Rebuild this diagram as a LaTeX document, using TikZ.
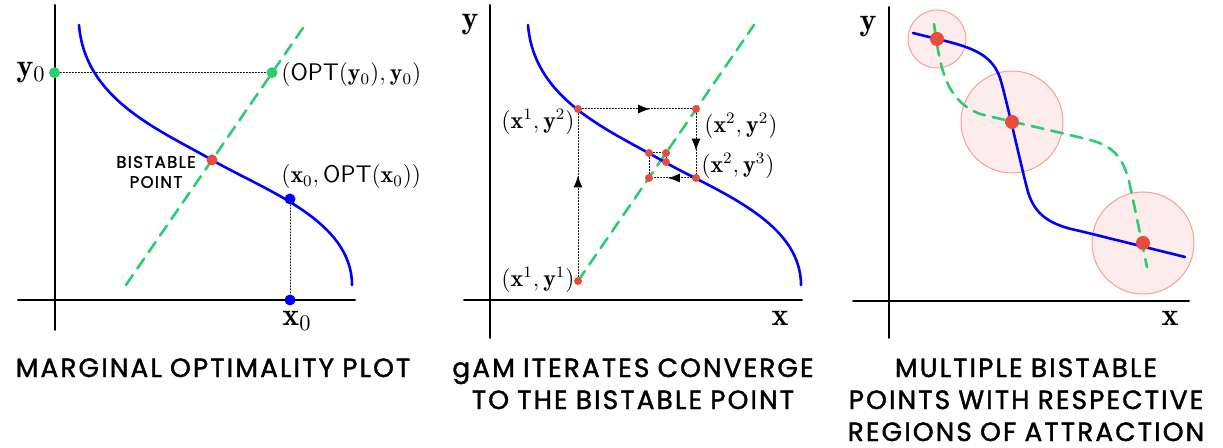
\RequirePackage{fix-cm}
\documentclass[tikz,border=0pt]{standalone}
\usepackage{fontspec}
\newfontfamily\capfont{Poppins}[LetterSpace=8, WordSpace=0.9, FakeBold=1.5]
\usetikzlibrary{arrows.meta, decorations.markings}

\definecolor{optblue}{RGB}{0,0,255}
\definecolor{diaggreen}{RGB}{46,204,113}
\definecolor{bistred}{RGB}{231,76,60}
\definecolor{basinfill}{RGB}{252,236,236}
\definecolor{basinedge}{RGB}{243,160,150}

\tikzset{
  axis/.style={line width=1pt},
  optcurve/.style={optblue, line width=1.3pt},
  diagline/.style={diaggreen, line width=1.3pt, dash pattern=on 6pt off 4pt},
  guide/.style={densely dotted, line width=0.5pt},
  dot/.style={circle, fill=#1, inner sep=0pt, minimum size=5.5pt},
  itdot/.style={circle, fill=bistred, inner sep=0pt, minimum size=4pt},
  bigdot/.style={circle, fill=bistred, inner sep=0pt, minimum size=7pt},
  midarrow/.style={postaction={decorate}, decoration={markings,
      mark=at position 0.62 with {\arrow{Latex[length=6pt, width=4.5pt]}}}},
  ptlabel/.style={font=\fontsize{12}{14}\selectfont, inner sep=0pt},
  axlabel/.style={font=\fontsize{16}{18}\selectfont, inner sep=0pt},
  caption/.style={font=\capfont\fontsize{13.2}{16}\selectfont, align=center, inner sep=0pt, anchor=north}
}

\begin{document}
\begin{tikzpicture}[x=0.5pt, y=-0.5pt, line cap=round, line join=round]
  \useasboundingbox (0,0) rectangle (1223,448);

  % 1. Panel trai: marginal optimality plot
  \draw[axis] (18,300) -- (355,300);
  \draw[axis] (54.5,5) -- (54.5,330);
  \draw[diagline] (126,285) -- (305,25);
  \draw[optcurve] (79,25) .. controls (85,100) and (160,130) .. (212,160)
                          .. controls (264,190) and (352,220) .. (352,285);
  \node[dot=diaggreen] (ylev) at (54.5,72.7) {};
  \node[dot=diaggreen] (yopt) at (272,72.7) {};
  \node[dot=bistred] (bist) at (212,160) {};
  \node[dot=optblue] (xopt) at (290,199) {};
  \node[dot=optblue] (xlev) at (290,300) {};
  \draw[guide] (ylev) -- (yopt);
  \draw[guide] (xopt) -- (xlev);
  \node[axlabel, anchor=east] (ylab) at (46,73) {$\mathbf{y}_0$};
  \node[axlabel, anchor=north] (xlab) at (297,311) {$\mathbf{x}_0$};
  \node[ptlabel, anchor=west] (yoptlab) at (281,75) {$(\mathsf{OPT}(\mathbf{y}_0), \mathbf{y}_0)$};
  \node[ptlabel, anchor=west] (xoptlab) at (281,177) {$(\mathbf{x}_0, \mathsf{OPT}(\mathbf{x}_0))$};
  \node[font=\capfont\fontsize{8.3}{10}\selectfont, align=center, inner sep=0pt] (bistlab) at (156,172) {BISTABLE\\POINT};

  % 2. Panel giua: cac buoc lap gAM
  \draw[axis] (464,300) -- (802,300);
  \draw[axis] (490,5) -- (490,338);
  \draw[diagline] (578,281) -- (754,25);
  \begin{scope}[xshift=224.5pt]
    \draw[optcurve] (79,25) .. controls (85,100) and (160,130) .. (212,160)
                            .. controls (264,190) and (352,220) .. (352,285);
  \end{scope}
  \foreach \n/\px/\py in {xay1/578/281, xay2/578/109, xby2/696/109, xby3/696/178,
                          pc/649/178, pd/649/153, pe/666/153, pf/666/162}
    \node[itdot] (\n) at (\px,\py) {};
  \foreach \s/\t in {xay1/xay2, xay2/xby2, xby2/xby3, xby3/pc}
    \draw[guide, midarrow] (\s) -- (\t);
  \draw[guide] (pc) -- (pd) -- (pe) -- (pf);
  \node[axlabel] (ymid) at (470,25) {$\mathbf{y}$};
  \node[axlabel] (xmid) at (780,318) {$\mathbf{x}$};
  \node[ptlabel, anchor=east] at (575,122) {$(\mathbf{x}^1, \mathbf{y}^2)$};
  \node[ptlabel, anchor=west] at (704,126) {$(\mathbf{x}^2, \mathbf{y}^2)$};
  \node[ptlabel, anchor=west] at (701,166) {$(\mathbf{x}^2, \mathbf{y}^3)$};
  \node[ptlabel, anchor=east] at (575,280) {$(\mathbf{x}^1, \mathbf{y}^1)$};

  % 3. Panel phai: nhieu diem bistable va vung hut
  \draw[axis] (853,301) -- (1189,301);
  \draw[axis] (889,7) -- (889,338);
  \foreach \cx/\cy/\r in {937/39/29, 1012/122/51, 1143/243/51}
    \draw[fill=basinfill, draw=basinedge, line width=0.5pt] (\cx,\cy) circle[radius=\r];
  \draw[diagline] (934,24) .. controls (940,65) and (944,100) .. (980,114)
                  .. controls (1000,119) and (1050,130) .. (1090,140)
                  .. controls (1115,146) and (1125,160) .. (1131,190) -- (1147,267);
  \draw[optcurve] (913,33) .. controls (960,45) and (990,48) .. (1000,78)
                  .. controls (1005,93) and (1022,170) .. (1028,192)
                  .. controls (1035,215) and (1050,225) .. (1080,231) -- (1185,257);
  \foreach \n/\px/\py in {bsa/937/39, bsb/1012/122, bsc/1143/243}
    \node[bigdot] (\n) at (\px,\py) {};
  \node[axlabel] (yright) at (868,27) {$\mathbf{y}$};
  \node[axlabel] (xright) at (1170,318) {$\mathbf{x}$};

  % 4. Chu thich duoi moi panel
  \node[caption] (capa) at (213,358) {MARGINAL OPTIMALITY PLOT};
  \node[caption] (capb) at (633,358) {gAM ITERATES CONVERGE\\TO THE BISTABLE POINT};
  \node[caption] (capc) at (1026,358) {MULTIPLE BISTABLE\\POINTS WITH RESPECTIVE\\REGIONS OF ATTRACTION};
\end{tikzpicture}
\end{document}
